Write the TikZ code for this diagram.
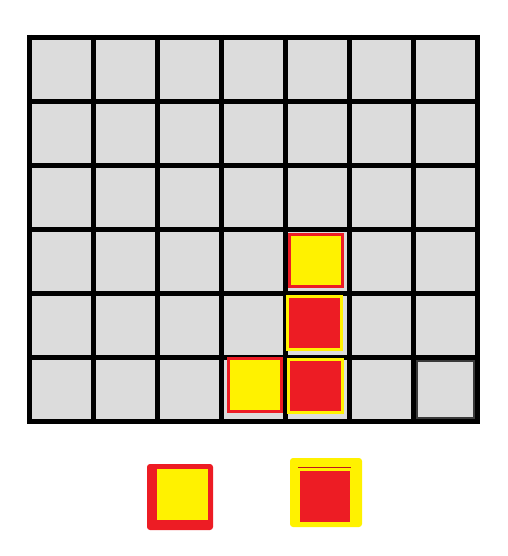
\documentclass[tikz,border=0pt]{standalone}
\definecolor{cellgray}{HTML}{DCDCDC}
\definecolor{pyellow}{HTML}{FFF200}
\definecolor{pred}{HTML}{ED1C24}
\definecolor{dgray}{HTML}{3A3A3A}
\begin{document}
\begin{tikzpicture}[x=1pt,y=-1pt,
  gridline/.style={line width=5pt,black},
  ypiece/.style={fill=pyellow,draw=pred,line width=2.7pt},
  rpiece/.style={fill=pred,draw=pyellow,line width=2.7pt}]
\useasboundingbox (0,0) rectangle (507,556);
\fill[white] (0,0) rectangle (507,556);
% cells
\fill[cellgray] (29.5,37.5) rectangle (477.5,421.5);
\draw[dgray,line width=2.5pt] (417.2,361.2) rectangle (474.3,418.3);
% grid lines
\foreach \i in {0,...,7} {\draw[gridline] (29.5+64*\i,35) -- (29.5+64*\i,424);}
\foreach \j in {0,...,6} {\draw[gridline] (27,37.5+64*\j) -- (480,37.5+64*\j);}
% pieces on board
\draw[ypiece] (289.4,234.4) rectangle (342.6,286.6);
\draw[rpiece] (287.4,296.4) rectangle (341.6,349.6);
\draw[rpiece] (288.4,359.4) rectangle (342.6,412.6);
\draw[ypiece] (228.4,358.4) rectangle (281.6,411.6);
% legend pieces
\fill[pred,rounded corners=3pt] (147,464) rectangle (213,530);
\fill[pyellow] (157,469) rectangle (208,520);
\fill[pyellow,rounded corners=3pt] (290,458) rectangle (362,527);
\draw[pred!80!black,line width=1pt] (298,467) -- (351,467);
\fill[pred] (300,471) rectangle (350,522);
\end{tikzpicture}
\end{document}
